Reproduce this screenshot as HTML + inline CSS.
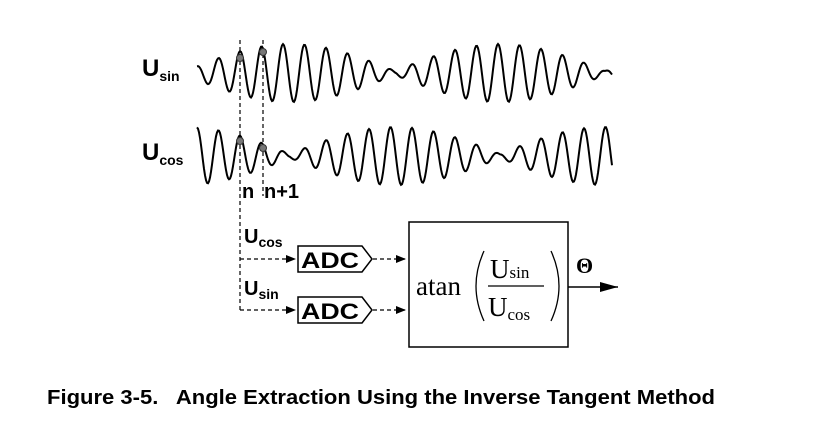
<!DOCTYPE html>
<html><head><style>
body{margin:0;width:823px;height:428px;background:#fff;overflow:hidden}
svg{position:absolute;left:0;top:0}
.b{font-family:"Liberation Sans",sans-serif;font-weight:bold}
.s{font-family:"Liberation Serif",serif}
</style></head><body>
<svg width="823" height="428" viewBox="0 0 823 428">
<defs><marker id="ar" markerWidth="10" markerHeight="8" refX="10" refY="4" orient="auto" markerUnits="userSpaceOnUse"><path d="M0,0L10,4L0,8z" fill="#000"/></marker>
<marker id="ar2" markerWidth="18" markerHeight="10" refX="18" refY="5" orient="auto" markerUnits="userSpaceOnUse"><path d="M0,0L18,5L0,10z" fill="#000"/></marker></defs>
<path id="ws" fill="none" stroke="#000" stroke-width="2"/>
<path id="wc" fill="none" stroke="#000" stroke-width="2"/>
<g stroke="#000" stroke-width="1.2" stroke-dasharray="4,3" fill="none">
<line x1="240" y1="40" x2="240" y2="310"/>
<line x1="263" y1="40" x2="263" y2="196"/>
<line x1="240" y1="259" x2="296" y2="259" marker-end="url(#ar)"/>
<line x1="240" y1="310" x2="296" y2="310" marker-end="url(#ar)"/>
<line x1="373" y1="259" x2="406" y2="259" marker-end="url(#ar)"/>
<line x1="373" y1="310" x2="406" y2="310" marker-end="url(#ar)"/>
</g>
<g fill="#777" stroke="#333"><circle cx="240" cy="58" r="3.5"/><circle cx="263" cy="52" r="3.5"/><circle cx="240" cy="141" r="3.5"/><circle cx="263" cy="148" r="3.5"/></g>
<text x="142" y="76" class="b" font-size="24">U<tspan font-size="14" dy="5">sin</tspan></text>
<text x="142" y="160" class="b" font-size="24">U<tspan font-size="14" dy="5">cos</tspan></text>
<text x="242" y="198" class="b" font-size="20">n</text>
<text x="264" y="198" class="b" font-size="20">n+1</text>
<text x="244" y="243" class="b" font-size="20">U<tspan font-size="14" dy="4">cos</tspan></text>
<text x="244" y="295" class="b" font-size="20">U<tspan font-size="14" dy="4">sin</tspan></text>
<g fill="#fff" stroke="#000" stroke-width="1.5">
<path d="M298,246H362L372,259L362,272H298Z"/>
<path d="M298,297H362L372,310L362,323H298Z"/>
<rect x="409" y="222" width="159" height="125"/>
</g>
<text x="301" y="268" class="b" font-size="22" textLength="58" lengthAdjust="spacingAndGlyphs">ADC</text>
<text x="301" y="319" class="b" font-size="22" textLength="58" lengthAdjust="spacingAndGlyphs">ADC</text>
<text x="416" y="295" class="s" font-size="27">atan</text>
<path d="M484,251Q468,286 484,321" fill="none" stroke="#000" stroke-width="1.3"/>
<path d="M551,251Q567,286 551,321" fill="none" stroke="#000" stroke-width="1.3"/>
<text x="490" y="278" class="s" font-size="27">U<tspan font-size="17">sin</tspan></text>
<line x1="488" y1="286" x2="544" y2="286" stroke="#000" stroke-width="1.2"/>
<text x="488" y="316" class="s" font-size="27">U<tspan font-size="17" dy="4">cos</tspan></text>
<line x1="568" y1="287" x2="618" y2="287" stroke="#000" stroke-width="1.5" marker-end="url(#ar2)"/>
<text x="576" y="273" class="s" font-size="22" font-weight="bold">Θ</text>
<text x="47" y="404" class="b" font-size="20" xml:space="preserve" textLength="668" lengthAdjust="spacingAndGlyphs">Figure 3-5.   Angle Extraction Using the Inverse Tangent Method</text>
</svg>
<script>
function w(id,cy,f){var d="";for(var x=197;x<=612;x+=1){var th=Math.PI*(x-395)/210;var a=27*Math.abs(f(th))+2;var y=cy-a*Math.cos(2*Math.PI*(x-240)/21.5);d+=(x==197?"M":"L")+x+","+y.toFixed(1);}document.getElementById(id).setAttribute("d",d);}
w("ws",73,Math.sin);w("wc",156,Math.cos);
</script>
</body></html>
